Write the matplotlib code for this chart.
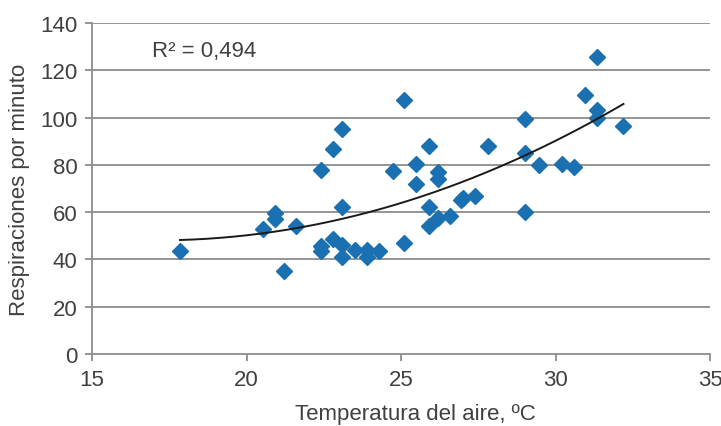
import numpy as np
import matplotlib
matplotlib.use("Agg")
import matplotlib.pyplot as plt

plt.rcParams['font.family'] = ['Liberation Sans', 'DejaVu Sans']

temperatura = [17.85, 20.55, 20.92, 20.92, 21.2, 21.6, 22.4, 22.4, 22.4, 22.8, 22.8,
               23.1, 23.1, 23.1, 23.1, 23.5, 23.9, 23.9, 24.3, 24.75, 25.1, 25.1,
               25.5, 25.5, 25.9, 25.9, 25.9, 26.2, 26.2, 26.2, 26.6, 26.95, 27.0,
               27.4, 27.8, 29.0, 29.0, 29.0, 29.45, 30.2, 30.6, 30.95, 31.35, 31.35,
               31.35, 32.2]
respiraciones = [43.5, 53, 59.8, 57, 35, 54, 78, 45.5, 43.5, 86.5, 48.5,
                 95, 62, 46, 41, 44, 44, 41, 43.5, 77.5, 107.5, 47,
                 80.5, 72, 88, 62, 54, 77, 74, 57.5, 58.5, 65, 66,
                 67, 88, 99.5, 85, 60, 80, 80.5, 79, 109.5, 125.5, 103,
                 100, 96.5]

x_ticks = [15, 20, 25, 30, 35]
y_ticks = [0, 20, 40, 60, 80, 100, 120, 140]
r2_label = "R\u00b2 = 0,494"

text_color = '#404040'
grid_color = '#8c8c8c'
marker_color = '#1a70b0'

fig = plt.figure(figsize=(7.21, 4.27), dpi=100)
ax = fig.add_axes([92/721, (427-355)/427, (710-92)/721, (355-24)/427])

# gridlines
for yv in y_ticks[1:]:
    ax.axhline(yv, color=grid_color, lw=1.3, zorder=1)

ax.plot(temperatura, respiraciones, linestyle='none', marker='D', ms=8,
        color=marker_color, mec=marker_color, zorder=3)

# quadratic trendline
coef = np.polyfit(temperatura, respiraciones, 2)
xs = np.linspace(min(temperatura), max(temperatura), 200)
ax.plot(xs, np.polyval(coef, xs), color='#1a1a1a', lw=1.4, zorder=4)

ax.set_xlim(15, 35)
ax.set_ylim(0, 140)
ax.set_xticks(x_ticks)
ax.set_yticks(y_ticks)
ax.tick_params(axis='both', colors=grid_color, labelcolor=text_color,
               labelsize=16, length=5, width=1.3, direction='out')
ax.tick_params(axis='x', pad=6)
ax.tick_params(axis='y', pad=5.5)
for s in ['top', 'right']:
    ax.spines[s].set_visible(False)
for s in ['left', 'bottom']:
    ax.spines[s].set_color(grid_color)
    ax.spines[s].set_linewidth(1.3)

ax.set_xlabel("Temperatura del aire, \u00baC", fontsize=16, color=text_color)
ax.set_ylabel("Respiraciones por minuto", fontsize=16, color=text_color)
ax.xaxis.set_label_coords((415-92)/618, -(404-355)/331)
ax.yaxis.set_label_coords((30-92)/618, 0.5)

ax.text((152-92)/618, (355-52)/331, r2_label, transform=ax.transAxes, fontsize=16,
        color=text_color, va='center', ha='left')

fig.savefig("out.png", dpi=100)
